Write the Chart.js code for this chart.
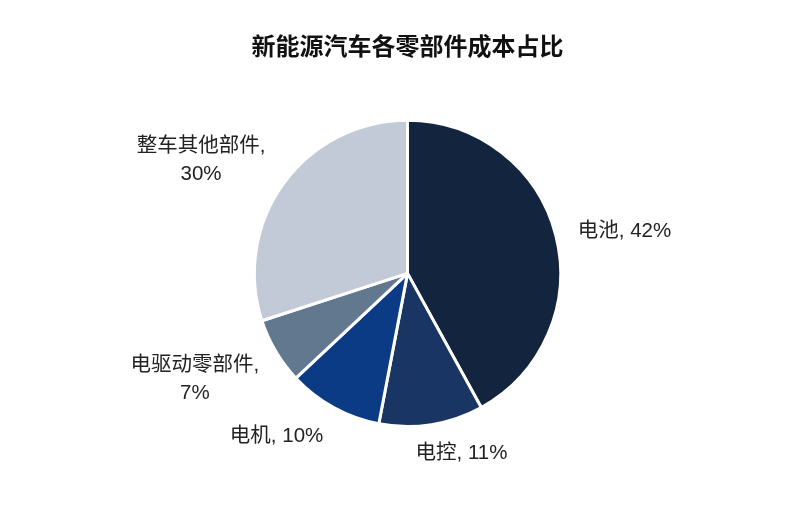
<!DOCTYPE html>
<html>
<head>
<meta charset="utf-8">
<script src="https://cdn.jsdelivr.net/npm/chart.js@4.4.1/dist/chart.umd.min.js"></script>
<style>
    html, body { margin: 0; padding: 0; background: #ffffff; }
    #wrap { width: 800px; height: 509px; }
</style>
</head>
<body>
<div id="wrap"><canvas id="pie-chart"></canvas></div>
<script>
// Data
const categories = ['电池', '电控', '电机', '电驱动零部件', '整车其他部件'];
const shares = [42, 11, 10, 7, 30];
const sliceColors = ['#13243f', '#183563', '#0c3b85', '#62788f', '#c3cad7'];

// small label nudges (px) on top of the outside-end placement
const labelNudges = [[6, 3], [20, 0], [-26, 3], [-10, 6], [-16, 3]];

const labelFont = '20.5px "Liberation Sans", "Noto Sans CJK SC", sans-serif';

const outsideLabels = {
    id: 'outsideLabels',
    afterDatasetsDraw(chart) {
        const ctx = chart.ctx;
        const meta = chart.getDatasetMeta(0);
        ctx.save();
        ctx.font = labelFont;
        ctx.fillStyle = '#222222';
        ctx.textAlign = 'center';
        ctx.textBaseline = 'middle';
        meta.data.forEach((arc, i) => {
            const p = arc.getProps(['x', 'y', 'startAngle', 'endAngle', 'outerRadius'], true);
            const mid = (p.startAngle + p.endAngle) / 2;
            const r = p.outerRadius + 18;
            const ax = p.x + Math.cos(mid) * r;
            const ay = p.y + Math.sin(mid) * r;
            const name = chart.data.labels[i];
            const value = shares[i] + '%';
            const lines = name.length > 4 ? [name + ',', value] : [name + ', ' + value];
            const lineH = 28;
            const w = Math.max(...lines.map(l => ctx.measureText(l).width));
            const h = lines.length * lineH - 5;
            const cx = ax + Math.cos(mid) * w / 2 + labelNudges[i][0];
            const cy = ay + Math.sin(mid) * h / 2 + labelNudges[i][1];
            lines.forEach((line, k) => {
                ctx.fillText(line, cx, cy - (lines.length - 1) * lineH / 2 + k * lineH);
            });
        });
        ctx.restore();
    }
};

const pieCtx = document.getElementById('pie-chart').getContext('2d');

const pieChart = new Chart(pieCtx, {
    type: 'pie',
    data: {
        labels: categories,
        datasets: [{
            data: shares,
            backgroundColor: sliceColors,
            borderColor: '#ffffff',
            borderWidth: 3
        }]
    },
    options: {
        responsive: true,
        maintainAspectRatio: false,
        animation: false,
        layout: {
            padding: { top: 0, bottom: 81, left: 15, right: 0 }
        },
        plugins: {
            legend: { display: false },
            tooltip: { enabled: false },
            title: {
                display: true,
                text: '新能源汽车各零部件成本占比',
                color: '#111111',
                font: { family: '"Noto Sans CJK SC", sans-serif', size: 24, weight: 'bold' },
                padding: { top: 31, bottom: 59 }
            }
        }
    },
    plugins: [outsideLabels]
});
</script>
</body>
</html>
